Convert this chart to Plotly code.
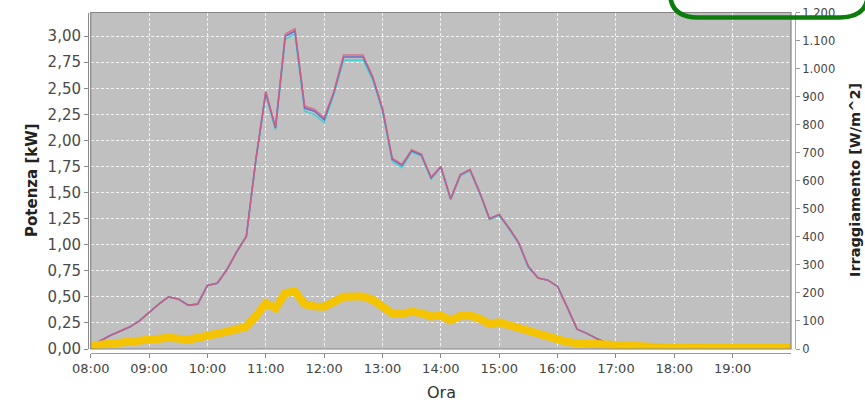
import pandas as pd
import plotly.graph_objects as go

# ---------------- data ----------------
# 10-minute samples
power_times = pd.date_range("2012-06-01 08:00", "2012-06-01 17:10", freq="10min")
irr_times = pd.date_range("2012-06-01 08:00", "2012-06-01 20:00", freq="10min")

# Potenza [kW] - three nearly identical series
power_red = [0.04, 0.08, 0.13, 0.17, 0.21, 0.27, 0.35, 0.43, 0.50, 0.48,
             0.42, 0.43, 0.61, 0.63, 0.76, 0.93, 1.08, 1.83, 2.47, 2.13,
             3.02, 3.07, 2.33, 2.30, 2.22, 2.47, 2.82, 2.82, 2.82, 2.61,
             2.31, 1.83, 1.77, 1.91, 1.87, 1.65, 1.75, 1.44, 1.67, 1.72,
             1.50, 1.25, 1.29, 1.16, 1.02, 0.79, 0.68, 0.66, 0.60, 0.40,
             0.19, 0.15, 0.10, 0.06, 0.03, 0.01]
power_blue = [0.04, 0.08, 0.13, 0.17, 0.21, 0.27, 0.35, 0.43, 0.50, 0.48,
              0.42, 0.43, 0.61, 0.63, 0.76, 0.93, 1.08, 1.83, 2.46, 2.12,
              3.00, 3.05, 2.31, 2.28, 2.20, 2.46, 2.80, 2.80, 2.80, 2.60,
              2.30, 1.82, 1.76, 1.90, 1.86, 1.64, 1.75, 1.44, 1.67, 1.72,
              1.50, 1.25, 1.29, 1.16, 1.02, 0.79, 0.68, 0.66, 0.60, 0.40,
              0.19, 0.15, 0.10, 0.06, 0.03, 0.01]
power_cyan = [0.04, 0.08, 0.13, 0.17, 0.21, 0.27, 0.35, 0.43, 0.50, 0.48,
              0.42, 0.43, 0.61, 0.63, 0.76, 0.93, 1.08, 1.82, 2.44, 2.10,
              2.97, 3.02, 2.28, 2.25, 2.17, 2.44, 2.77, 2.77, 2.77, 2.58,
              2.28, 1.80, 1.74, 1.89, 1.85, 1.63, 1.74, 1.43, 1.66, 1.71,
              1.49, 1.24, 1.28, 1.15, 1.01, 0.78, 0.68, 0.66, 0.60, 0.40,
              0.19, 0.15, 0.10, 0.06, 0.03, 0.01]

# Irraggiamento [W/m^2]
irradiance = [12, 15, 18, 22, 26, 30, 36, 40, 40, 37,
              33, 40, 50, 55, 62, 74, 80, 118, 163, 145,
              200, 205, 160, 152, 151, 168, 186, 187, 187, 175,
              153, 127, 126, 133, 128, 116, 119, 102, 118, 119,
              108, 90, 95, 85, 73, 60, 50, 45, 35, 25,
              21, 19, 17, 14, 11, 8, 6, 5, 4, 4,
              4, 4, 4, 4, 4, 4, 4, 4, 4, 4,
              4, 4, 4]

x_tick_vals = pd.date_range("2012-06-01 08:00", "2012-06-01 19:00", freq="1h")
x_tick_text = ["08:00", "09:00", "10:00", "11:00", "12:00", "13:00",
               "14:00", "15:00", "16:00", "17:00", "18:00", "19:00"]

# ---------------- layout geometry ----------------
W, H = 865, 402
px_l, px_r, px_t, px_b = 90.7, 791.0, 12.5, 349.0


def fx(px):
    return px / W


def fy(py):
    return (H - py) / H


fig = go.Figure()

fig.add_trace(go.Scatter(x=power_times, y=power_cyan, mode="lines",
                         line=dict(color="#48d0d0", width=1.6), name="cyan",
                         yaxis="y"))
fig.add_trace(go.Scatter(x=power_times, y=power_blue, mode="lines",
                         line=dict(color="#6a6ac8", width=1.6), name="blue",
                         yaxis="y"))
fig.add_trace(go.Scatter(x=power_times, y=power_red, mode="lines",
                         line=dict(color="rgba(224,92,120,0.78)", width=1.6),
                         name="red", yaxis="y"))
fig.add_trace(go.Scatter(x=irr_times, y=irradiance, mode="lines",
                         line=dict(color="#f4c400", width=8),
                         name="irr", yaxis="y2"))

fig.update_layout(
    width=W, height=H,
    margin=dict(l=0, r=0, t=0, b=0),
    paper_bgcolor="white",
    plot_bgcolor="#c0c0c0",
    showlegend=False,
    separators=",.",
    xaxis=dict(
        domain=[fx(px_l), fx(px_r)],
        anchor="free", position=fy(352.5),
        type="date",
        range=["2012-06-01 08:00", "2012-06-01 20:00"],
        tickmode="array", tickvals=x_tick_vals, ticktext=x_tick_text,
        ticks="outside", ticklen=4, tickcolor="#888888",
        showline=True, linecolor="#999999", linewidth=1,
        showgrid=True, gridcolor="rgba(255,255,255,0.8)", griddash="3px,2px",
        gridwidth=1, zeroline=False,
        tickfont=dict(family="DejaVu Sans", size=13, color="#444444"),
        ticklabeloverflow="allow", automargin=False,
    ),
    yaxis=dict(
        domain=[fy(px_b), fy(px_t)],
        anchor="free", position=fx(88),
        range=[0, 3.227],
        tickmode="array",
        tickvals=[0, 0.25, 0.5, 0.75, 1.0, 1.25, 1.5, 1.75, 2.0, 2.25, 2.5, 2.75, 3.0],
        tickformat=".2f",
        ticks="outside", ticklen=4, tickcolor="#888888",
        showline=True, linecolor="#888888", linewidth=1,
        showgrid=True, gridcolor="rgba(255,255,255,0.8)", griddash="3px,2px",
        gridwidth=1, zeroline=False,
        tickfont=dict(family="DejaVu Sans", size=15, color="#4a4a4a"),
        ticklabeloverflow="allow", automargin=False,
    ),
    yaxis2=dict(
        overlaying="y", side="right",
        anchor="free", position=fx(795),
        range=[0, 1200],
        tickmode="array",
        tickvals=[0, 100, 200, 300, 400, 500, 600, 700, 800, 900, 1000, 1100, 1200],
        tickformat=",d",
        ticks="outside", ticklen=4, tickcolor="#999999",
        showline=True, linecolor="#aaaaaa", linewidth=1,
        showgrid=False, zeroline=False,
        tickfont=dict(family="DejaVu Sans", size=11.5, color="#444444"),
        ticklabeloverflow="allow", automargin=False,
    ),
)

# plot outline
fig.add_shape(type="rect", xref="paper", yref="paper",
              x0=fx(px_l), x1=fx(px_r), y0=fy(px_b), y1=fy(px_t),
              line=dict(color="#858585", width=1.2), layer="above")

# green rounded highlight frame (partially off-canvas)
pts = [(670, -30), (670, -8), (670, 17.5), (698, 17.5), (840, 17.5),
       (868, 17.5), (868, -8), (868, -30)]
path = ("M {:.5f},{:.5f} L {:.5f},{:.5f} Q {:.5f},{:.5f} {:.5f},{:.5f} "
        "L {:.5f},{:.5f} Q {:.5f},{:.5f} {:.5f},{:.5f} L {:.5f},{:.5f}").format(
    fx(pts[0][0]), fy(pts[0][1]), fx(pts[1][0]), fy(pts[1][1]),
    fx(pts[2][0]), fy(pts[2][1]), fx(pts[3][0]), fy(pts[3][1]),
    fx(pts[4][0]), fy(pts[4][1]),
    fx(pts[5][0]), fy(pts[5][1]), fx(pts[6][0]), fy(pts[6][1]),
    fx(pts[7][0]), fy(pts[7][1]))
fig.add_shape(type="path", xref="paper", yref="paper", path=path,
              line=dict(color="#0c7d0c", width=4.5), layer="above")

# axis titles
fig.add_annotation(text="<b>Potenza [kW]</b>", xref="paper", yref="paper",
                   x=fx(32), y=fy(180), textangle=-90, showarrow=False,
                   font=dict(family="DejaVu Sans", size=15, color="#222222"),
                   xanchor="center", yanchor="middle")
fig.add_annotation(text="<b>Irraggiamento [W/m^2]</b>", xref="paper", yref="paper",
                   x=fx(855), y=fy(180), textangle=-90, showarrow=False,
                   font=dict(family="DejaVu Sans", size=14.5, color="#222222"),
                   xanchor="center", yanchor="middle")
fig.add_annotation(text="Ora", xref="paper", yref="paper",
                   x=fx(441), y=fy(392), showarrow=False,
                   font=dict(family="DejaVu Sans", size=16, color="#333333"),
                   xanchor="center", yanchor="middle")

fig.write_html(
    "out.html",
    config={"displayModeBar": False},
    post_script="document.body.style.margin='0';document.body.style.overflow='hidden';",
)
